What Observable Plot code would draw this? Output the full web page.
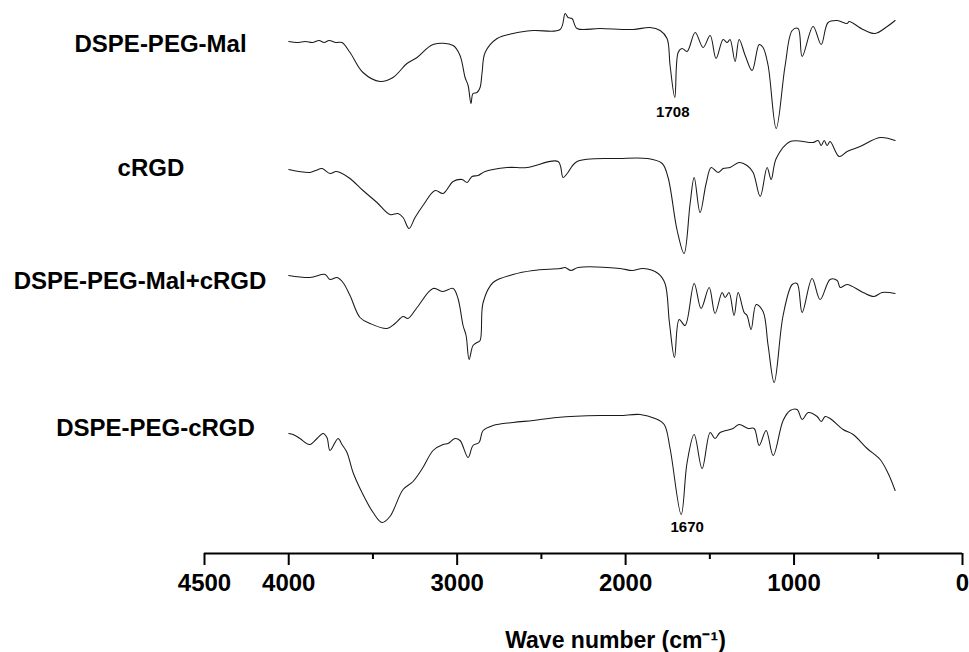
<!DOCTYPE html>
<html><head><meta charset="utf-8">
<script src="https://cdn.jsdelivr.net/npm/d3@7"></script>
<script src="https://cdn.jsdelivr.net/npm/@observablehq/plot@0.6"></script>
<style>
body{margin:0;background:#fff;}
#chart svg{display:block;}
</style></head>
<body><div id="chart"></div>
<script>
// Sample names, top to bottom
const seriesNames = ["DSPE-PEG-Mal", "cRGD", "DSPE-PEG-Mal+cRGD", "DSPE-PEG-cRGD"];

// [wavenumber (cm-1), transmittance (a.u., stacked)]
const specMal = [
  [4000,512],[3950,511],[3900,512],[3860,511],[3820,513],[3790,511],[3760,513],[3720,511],[3684,511],
  [3636,501],[3559,481],[3458,472],[3381,476],[3298,490],[3238,496],[3143,509],[3024,508],[2983,498],
  [2953,476],[2935,468],[2918,450],[2906,460],[2882,461],[2864,466],[2852,481],[2834,501],[2763,515],
  [2668,520],[2549,523],[2389,524],[2359,540],[2342,536],[2318,535],[2288,525],[2152,525],[1956,524],
  [1855,526],[1795,523],[1754,515],[1736,488],[1708,456],[1688,501],[1665,505],[1635,502],[1587,521],
  [1540,506],[1498,518],[1463,495],[1421,514],[1397,511],[1380,514],[1350,492],[1326,514],[1290,498],
  [1249,483],[1207,509],[1184,506],[1154,488],[1106,425],[1053,488],[1011,523],[976,525],[952,497],
  [887,527],[839,509],[798,531],[744,533],[685,530],[673,532],[590,524],[519,520],[447,527],[400,533]
];
const specRGD = [
  [4000,384],[3940,382],[3874,381],[3840,383],[3802,385],[3755,380],[3720,382],[3695,381],[3636,375],
  [3559,363],[3476,351],[3399,339],[3351,340],[3321,336],[3286,325],[3250,336],[3203,348],[3131,363],
  [3084,360],[3024,372],[2971,374],[2941,371],[2912,377],[2876,378],[2834,382],[2704,386],[2585,386],
  [2401,392],[2371,376],[2347,380],[2288,392],[2033,395],[1872,395],[1783,390],[1748,376],[1694,323],
  [1653,300],[1617,350],[1593,376],[1558,341],[1522,370],[1492,386],[1451,381],[1421,385],[1380,386],
  [1326,391],[1279,388],[1243,381],[1201,357],[1160,386],[1136,374],[1106,395],[1023,412],[887,411],
  [857,413],[839,408],[821,413],[804,408],[786,412],[732,397],[685,402],[608,407],[489,416],[400,413]
];
const specMix = [
  [4000,278],[3874,276],[3784,279],[3755,274],[3713,276],[3678,271],[3636,258],[3577,236],[3517,230],
  [3416,225],[3369,230],[3321,237],[3292,235],[3238,246],[3143,265],[3084,262],[3024,265],[2995,255],
  [2965,228],[2947,218],[2929,194],[2906,208],[2882,211],[2864,213],[2846,251],[2787,271],[2668,279],
  [2549,283],[2389,285],[2359,286],[2324,283],[2282,286],[2033,285],[1961,283],[1896,285],[1807,280],
  [1766,270],[1740,231],[1710,196],[1682,234],[1647,228],[1593,270],[1552,245],[1504,266],[1469,240],
  [1427,261],[1409,256],[1386,261],[1356,238],[1332,261],[1296,241],[1279,238],[1255,224],[1225,249],
  [1184,242],[1154,208],[1118,171],[1065,238],[1011,269],[982,270],[952,241],[893,275],[845,254],
  [786,274],[744,273],[726,266],[685,269],[590,261],[525,257],[477,261],[400,260]
];
const specConj = [
  [4000,120],[3974,119],[3933,115],[3903,111],[3874,109],[3832,115],[3796,120],[3773,116],[3755,103],
  [3707,115],[3684,109],[3654,101],[3618,81],[3565,61],[3499,41],[3446,31],[3399,37],[3321,64],
  [3262,72],[3203,86],[3143,103],[3084,109],[3054,110],[3013,115],[2983,113],[2935,96],[2906,108],
  [2870,111],[2846,123],[2787,128],[2668,131],[2549,133],[2407,136],[2152,138],[2033,138],[1914,139],
  [1825,135],[1771,129],[1736,105],[1670,39],[1635,91],[1593,119],[1546,85],[1498,121],[1469,115],
  [1439,121],[1362,125],[1326,129],[1273,125],[1237,125],[1207,108],[1166,123],[1124,98],[1065,133],
  [1023,143],[982,144],[952,134],[916,141],[863,137],[839,132],[815,137],[786,135],[709,124],
  [649,119],[566,105],[489,94],[441,80],[400,63]
];
const spectra = [specMal, specRGD, specMix, specConj];

// Annotated peaks: [series index, wavenumber]
const peaks = [[0, 1708], [3, 1670]];

// Axis ticks
const majorTicks = [4500, 4000, 3000, 2000, 1000, 0];
const minorTicks = [3500, 2500, 1500, 500];
const xTitle = "Wave number (cm\u207B\u00B9)";

// ---- build table ----
const rows = spectra.flatMap((s, i) => s.map(([w, t]) => ({series: seriesNames[i], w, t})));
const peakRows = peaks.map(([i, w]) => ({w, t: spectra[i].find(d => d[0] === w)[1]}));

// label anchor (wavenumber, a.u.) for each sample name, left of the axis range
const labelRows = [
  {name: seriesNames[0], w: 4761, t: 509},
  {name: seriesNames[1], w: 4818, t: 385},
  {name: seriesNames[2], w: 4883, t: 272},
  {name: seriesNames[3], w: 4791, t: 125}
];

const font = "'Liberation Sans', Arial, Helvetica, sans-serif";

const chart = Plot.plot({
  width: 969,
  height: 652,
  marginLeft: 204,
  marginRight: 7,
  marginTop: 0,
  marginBottom: 99,
  x: {domain: [4500, 0]},
  y: {domain: [0, 553], axis: null},
  style: {fontFamily: font, background: "#fff", color: "#000", overflow: "visible"},
  marks: [
    Plot.ruleY([0], {stroke: "#000", strokeWidth: 2}),
    Plot.axisX({ticks: majorTicks, tickSize: 12, tickPadding: 8, strokeWidth: 2, stroke: "#000",
      fontSize: 24, fontWeight: "bold", tickFormat: "d", label: null, fill: "#000"}),
    Plot.axisX({ticks: minorTicks, tickSize: 6, strokeWidth: 2, stroke: "#000", tickFormat: () => "", label: null}),
    Plot.line(rows, {x: "w", y: "t", z: "series", stroke: "#1a1a1a", strokeWidth: 1.05, curve: "catmull-rom"}),
    Plot.text(labelRows, {x: "w", y: "t", text: "name", fontSize: 24, fontWeight: "bold", fill: "#000", textAnchor: "middle", lineAnchor: "middle"}),
    Plot.text([peakRows[0]], {x: "w", y: "t", text: d => String(d.w), dx: -2, dy: 15, fontSize: 15, fontWeight: "bold", fill: "#000", lineAnchor: "middle"}),
    Plot.text([peakRows[1]], {x: "w", y: "t", text: d => String(d.w), dx: 6, dy: 13, fontSize: 15, fontWeight: "bold", fill: "#000", lineAnchor: "middle"}),
    Plot.text([xTitle], {frameAnchor: "bottom", text: d => d, dx: 32, dy: 94, fontSize: 23, fontWeight: "bold", fill: "#000", lineAnchor: "bottom"})
  ]
});
document.getElementById("chart").appendChild(chart);
</script>
</body></html>
